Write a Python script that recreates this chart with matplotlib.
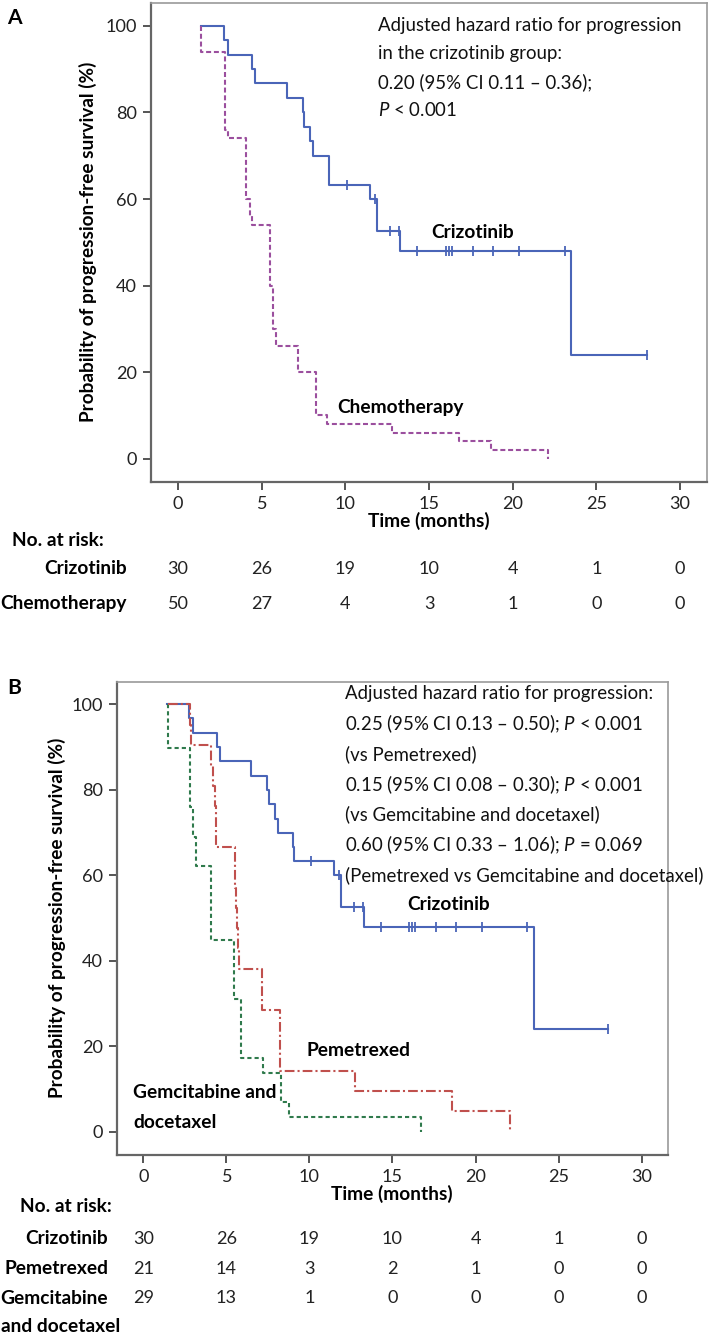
import matplotlib
matplotlib.use('Agg')
import matplotlib.pyplot as plt
from matplotlib.transforms import blended_transform_factory

plt.rcParams['font.family'] = ['Lato', 'DejaVu Sans']
plt.rcParams['mathtext.fontset'] = 'custom'
plt.rcParams['mathtext.it'] = 'Lato:italic'
plt.rcParams['mathtext.rm'] = 'Lato'
plt.rcParams['lines.scale_dashes'] = False

# ---------------- data ----------------
tick_months = [0, 5, 10, 15, 20, 25, 30]
yticks = [0, 20, 40, 60, 80, 100]

criz_time = [1.4, 2.75, 3.0, 4.45, 4.6, 6.5, 7.45, 7.55, 7.9, 8.1, 9.0, 9.05, 11.5, 11.9, 13.27, 23.5, 28.0]
criz_surv = [100, 96.7, 93.3, 90.0, 86.7, 83.3, 80.0, 76.7, 73.3, 70.0, 66.7, 63.3, 60.0, 52.5, 48.0, 24.0, 24.0]
criz_cens_time = [10.1, 11.8, 12.7, 13.2, 14.3, 16.0, 16.2, 16.35, 17.6, 18.8, 20.4, 23.1, 28.0]
criz_cens_surv = [63.3, 60.0, 52.5, 52.5, 48.0, 48.0, 48.0, 48.0, 48.0, 48.0, 48.0, 48.0, 24.0]

chemo_time = [1.4, 1.4, 2.8, 3.0, 4.1, 4.3, 4.45, 5.5, 5.7, 5.85, 7.2, 8.25, 8.9, 12.8, 16.8, 18.7, 22.1]
chemo_surv = [100, 94, 76, 74, 60, 56, 54, 40, 30, 26, 20, 10, 8, 6, 4, 2, 0]

pem_time = [1.5, 2.8, 2.85, 4.1, 4.2, 4.3, 4.35, 4.4, 5.5, 5.55, 5.6, 5.65, 5.7, 5.75, 7.15, 8.2, 12.75, 18.6, 22.06]
pem_surv = [100, 95.2, 90.5, 85.7, 81.0, 76.2, 71.4, 66.7, 61.9, 57.1, 52.4, 47.6, 42.9, 38.1, 28.6, 14.3, 9.5, 4.8, 0]

gem_time = [1.5, 1.5, 2.8, 3.0, 3.2, 4.1, 5.45, 5.9, 7.2, 8.3, 8.8, 16.7]
gem_surv = [100, 89.7, 75.9, 69.0, 62.1, 44.8, 31.0, 17.2, 13.8, 6.9, 3.4, 0]

risk_A_criz = [30, 26, 19, 10, 4, 1, 0]
risk_A_chemo = [50, 27, 4, 3, 1, 0, 0]
risk_B_criz = [30, 26, 19, 10, 4, 1, 0]
risk_B_pem = [21, 14, 3, 2, 1, 0, 0]
risk_B_gem = [29, 13, 1, 0, 0, 0, 0]

annot_A = ["Adjusted hazard ratio for progression",
           "in the crizotinib group:",
           "0.20 (95% CI 0.11 \u2013 0.36);",
           "$\\mathit{P}$ < 0.001"]
annot_B = ["Adjusted hazard ratio for progression:",
           "0.25 (95% CI 0.13 \u2013 0.50); $\\mathit{P}$ < 0.001",
           "(vs Pemetrexed)",
           "0.15 (95% CI 0.08 \u2013 0.30); $\\mathit{P}$ < 0.001",
           "(vs Gemcitabine and docetaxel)",
           "0.60 (95% CI 0.33 \u2013 1.06); $\\mathit{P}$ = 0.069",
           "(Pemetrexed vs Gemcitabine and docetaxel)"]

# ---------------- style ----------------
C_BLUE = '#4a65b8'
C_PURP = '#9b4f9e'
C_RED = '#c0504d'
C_GREEN = '#2f7a4c'

W, H = 709, 1335
fig = plt.figure(figsize=(W / 100, H / 100), dpi=100)
renderer = fig.canvas.get_renderer()


def fx(x):
    return x / W


def fy(y):
    return 1 - y / H


def size_for(s, target_px, weight='normal', base=12):
    t = fig.text(0, 0, s, fontsize=base, fontweight=weight)
    w = t.get_window_extent(renderer=renderer).width
    t.remove()
    return base * target_px / w


fs_tick = size_for('100', 31.5)
fs_ann = min(size_for(annot_A[0], 312), size_for(annot_B[-1], 358))
fs_bold = size_for('Chemotherapy', 126, 'bold')
fs_ylab = size_for('Probability of progression-free survival (%)', 358, 'bold')
fs_num = fs_tick


def make_axes(box):
    l, t, r, b = box
    ax = fig.add_axes([fx(l), fy(b), (r - l) / W, (b - t) / H])
    ax.set_xlim(-1.6, 31.6)
    ax.set_ylim(-5.4, 105.3)
    ax.set_xticks(tick_months)
    ax.set_yticks(yticks)
    ax.tick_params(axis='both', direction='out', length=6, width=1.4,
                   color='#555555', labelsize=fs_tick, labelcolor='#222222', pad=4)
    for side in ['left', 'bottom']:
        ax.spines[side].set_color('#666666')
        ax.spines[side].set_linewidth(1.6)
    for side in ['top', 'right']:
        ax.spines[side].set_color('#9a9a9a')
        ax.spines[side].set_linewidth(1.2)
    return ax


def censor(ax, t, s, color):
    ax.plot(t, s, linestyle='none', marker='|', markersize=7, markeredgewidth=1.3, color=color)


# ================= Panel A =================
axA = make_axes((151, 3, 707, 482))
axA.step(criz_time, criz_surv, where='post', color=C_BLUE, lw=1.5)
censor(axA, criz_cens_time, criz_cens_surv, C_BLUE)
lc, = axA.step(chemo_time, chemo_surv, where='post', color=C_PURP, lw=1.5)
lc.set_dashes((3.6, 2.0))

for i, line in enumerate(annot_A):
    fig.text(fx(378), fy(25 + i * 28.5), line, fontsize=fs_ann, ha='left', va='center', color='#111111')

fig.text(fx(473), fy(233), 'Crizotinib', fontsize=fs_bold, fontweight='bold', ha='center', va='center')
fig.text(fx(337), fy(407), 'Chemotherapy', fontsize=fs_bold, fontweight='bold', ha='left', va='center')
fig.text(fx(88), fy(242), 'Probability of progression-free survival (%)', rotation=90,
         fontsize=fs_ylab, fontweight='bold', ha='center', va='center')
fig.text(fx(429), fy(521), 'Time (months)', fontsize=fs_bold, fontweight='bold', ha='center', va='center')
fig.text(fx(14), fy(18), 'A', fontsize=fs_bold * 1.1, fontweight='bold', ha='center', va='center')

trA = blended_transform_factory(axA.transData, fig.transFigure)
fig.text(fx(12), fy(540), 'No. at risk:', fontsize=fs_bold, fontweight='bold', ha='left', va='center')
rowsA = [('Crizotinib', risk_A_criz, 569), ('Chemotherapy', risk_A_chemo, 604)]
for name, vals, yy in rowsA:
    fig.text(fx(127), fy(yy), name, fontsize=fs_bold, fontweight='bold', ha='right', va='center')
    for tm, v in zip(tick_months, vals):
        fig.text(tm, fy(yy), str(v), transform=trA, fontsize=fs_num, ha='center', va='center', color='#222222')

# ================= Panel B =================
axB = make_axes((116.7, 681.7, 668.3, 1155))
axB.step(criz_time, criz_surv, where='post', color=C_BLUE, lw=1.5, zorder=2)
censor(axB, criz_cens_time, criz_cens_surv, C_BLUE)
lp, = axB.step(pem_time, pem_surv, where='post', color=C_RED, lw=1.5, zorder=2.2)
lp.set_dashes((7, 2.2, 1.5, 2.2))
lg, = axB.step(gem_time, gem_surv, where='post', color=C_GREEN, lw=1.5, zorder=2.1)
lg.set_dashes((3.0, 2.2))

for i, line in enumerate(annot_B):
    fig.text(fx(345), fy(693.5 + i * 30.3), line, fontsize=fs_ann, ha='left', va='center', color='#111111')

fig.text(fx(407), fy(905), 'Crizotinib', fontsize=fs_bold, fontweight='bold', ha='left', va='center')
fig.text(fx(307), fy(1050), 'Pemetrexed', fontsize=fs_bold, fontweight='bold', ha='left', va='center')
fig.text(fx(133), fy(1093), 'Gemcitabine and', fontsize=fs_bold, fontweight='bold', ha='left', va='center')
fig.text(fx(133), fy(1123), 'docetaxel', fontsize=fs_bold, fontweight='bold', ha='left', va='center')
fig.text(fx(57), fy(918), 'Probability of progression-free survival (%)', rotation=90,
         fontsize=fs_ylab, fontweight='bold', ha='center', va='center')
fig.text(fx(392), fy(1194), 'Time (months)', fontsize=fs_bold, fontweight='bold', ha='center', va='center')
fig.text(fx(14), fy(688), 'B', fontsize=fs_bold * 1.1, fontweight='bold', ha='center', va='center')

trB = blended_transform_factory(axB.transData, fig.transFigure)
fig.text(fx(112), fy(1207), 'No. at risk:', fontsize=fs_bold, fontweight='bold', ha='right', va='center')
rowsB = [('Crizotinib', risk_B_criz, 1239), ('Pemetrexed', risk_B_pem, 1269), ('Gemcitabine', risk_B_gem, 1298)]
for name, vals, yy in rowsB:
    fig.text(fx(108), fy(yy), name, fontsize=fs_bold, fontweight='bold', ha='right', va='center')
    for tm, v in zip(tick_months, vals):
        fig.text(tm, fy(yy), str(v), transform=trB, fontsize=fs_num, ha='center', va='center', color='#222222')
fig.text(fx(1), fy(1326), 'and docetaxel', fontsize=fs_bold, fontweight='bold', ha='left', va='center')

fig.savefig('out.png', dpi=100)
